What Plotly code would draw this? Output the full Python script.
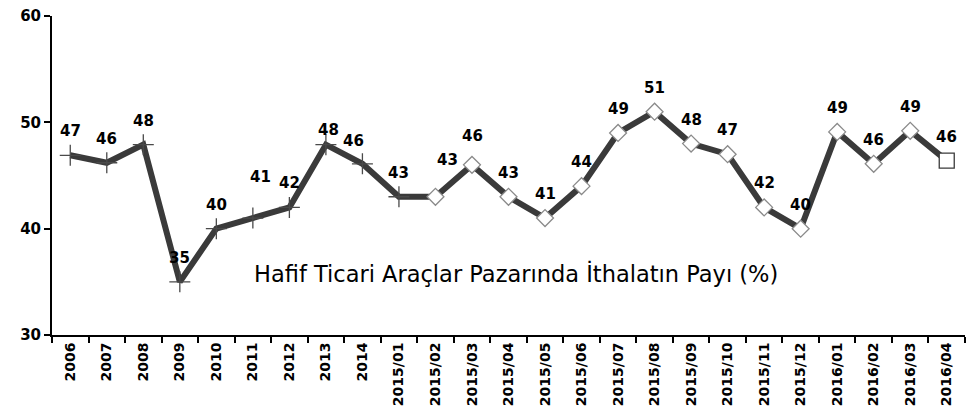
import plotly.graph_objects as go

categories = ["2006", "2007", "2008", "2009", "2010", "2011", "2012", "2013", "2014",
              "2015/01", "2015/02", "2015/03", "2015/04", "2015/05", "2015/06",
              "2015/07", "2015/08", "2015/09", "2015/10", "2015/11", "2015/12",
              "2016/01", "2016/02", "2016/03", "2016/04"]
share = [46.9, 46.2, 47.9, 35.0, 40.0, 41.0, 42.0, 47.9, 46.1,
         43.0, 43.0, 46.0, 43.0, 41.0, 44.0,
         49.0, 51.0, 48.0, 47.0, 42.0, 40.0,
         49.1, 46.1, 49.2, 46.4]
labels = ["47", "46", "48", "35", "40", "41", "42", "48", "46",
          "43", "43", "46", "43", "41", "44",
          "49", "51", "48", "47", "42", "40",
          "49", "46", "49", "46"]
title_text = "Hafif Ticari Araçlar Pazarında İthalatın Payı (%)"
y_ticks = [30, 40, 50, 60]

n = len(categories)
xpos = list(range(n))

# styling per point (marker type groups and label offsets)
symbols, sizes, mline, mfill = [], [], [], []
for i in range(n):
    if i <= 9:
        symbols.append("cross-thin"); sizes.append(15); mline.append("#4a4a4a"); mfill.append("#4a4a4a")
    elif i < n - 1:
        symbols.append("diamond"); sizes.append(13); mline.append("#8a8a8a"); mfill.append("#ffffff")
    else:
        symbols.append("square"); sizes.append(15); mline.append("#3a3a3a"); mfill.append("#ffffff")

dx = [0] * n
dy = [24] * n
dx[5], dy[5] = 8, 41
dx[7], dy[7] = 3, 15
dx[8], dy[8] = -9, 23
dx[10], dy[10] = 12, 37
dx[11], dy[11] = 1, 29

fig = go.Figure()
fig.add_trace(go.Scatter(
    x=xpos, y=share, mode="lines+markers", cliponaxis=False,
    line=dict(color="#3a3a3a", width=6),
    marker=dict(symbol=symbols, size=sizes, color=mfill, opacity=1,
                line=dict(color=mline, width=1.3)),
    text=categories, hovertemplate="%{text}: %{y}<extra></extra>", showlegend=False,
))

for i in range(n):
    fig.add_annotation(x=xpos[i], y=share[i], text=labels[i], showarrow=False,
                       xshift=dx[i], yshift=dy[i],
                       font=dict(family="DejaVu Sans", size=15, color="black", weight="bold"))

fig.add_annotation(x=0.5, y=35.8, xref="paper", yref="y", xanchor="center", yanchor="middle",
                   xshift=7,
                   text=title_text, showarrow=False,
                   font=dict(family="DejaVu Sans", size=22.5, color="black"))

fig.update_layout(
    width=969, height=419,
    margin=dict(l=52, r=4, t=16, b=84),
    plot_bgcolor="white", paper_bgcolor="white",
    font=dict(family="DejaVu Sans", color="black"),
)
fig.update_xaxes(range=[-0.5, n - 0.5], tickvals=xpos, ticktext=categories,
                 showgrid=False, zeroline=False, showline=True, linecolor="black", linewidth=2,
                 ticks="", tickangle=-90,
                 tickfont=dict(size=14, weight="bold", family="DejaVu Sans"),
                 minor=dict(tickvals=[i - 0.5 for i in range(n + 1)], ticks="outside",
                            ticklen=6, tickcolor="black", tickwidth=2, showgrid=False))
fig.update_yaxes(range=[30, 60], tickvals=y_ticks, showgrid=False, zeroline=False,
                 showline=True, linecolor="black", linewidth=2,
                 ticks="outside", ticklen=6, tickcolor="black", tickwidth=2,
                 tickfont=dict(size=15, weight="bold", family="DejaVu Sans"))

fig.write_html("out.html", config={"displayModeBar": False},
               post_script="document.body.style.margin='0';")
